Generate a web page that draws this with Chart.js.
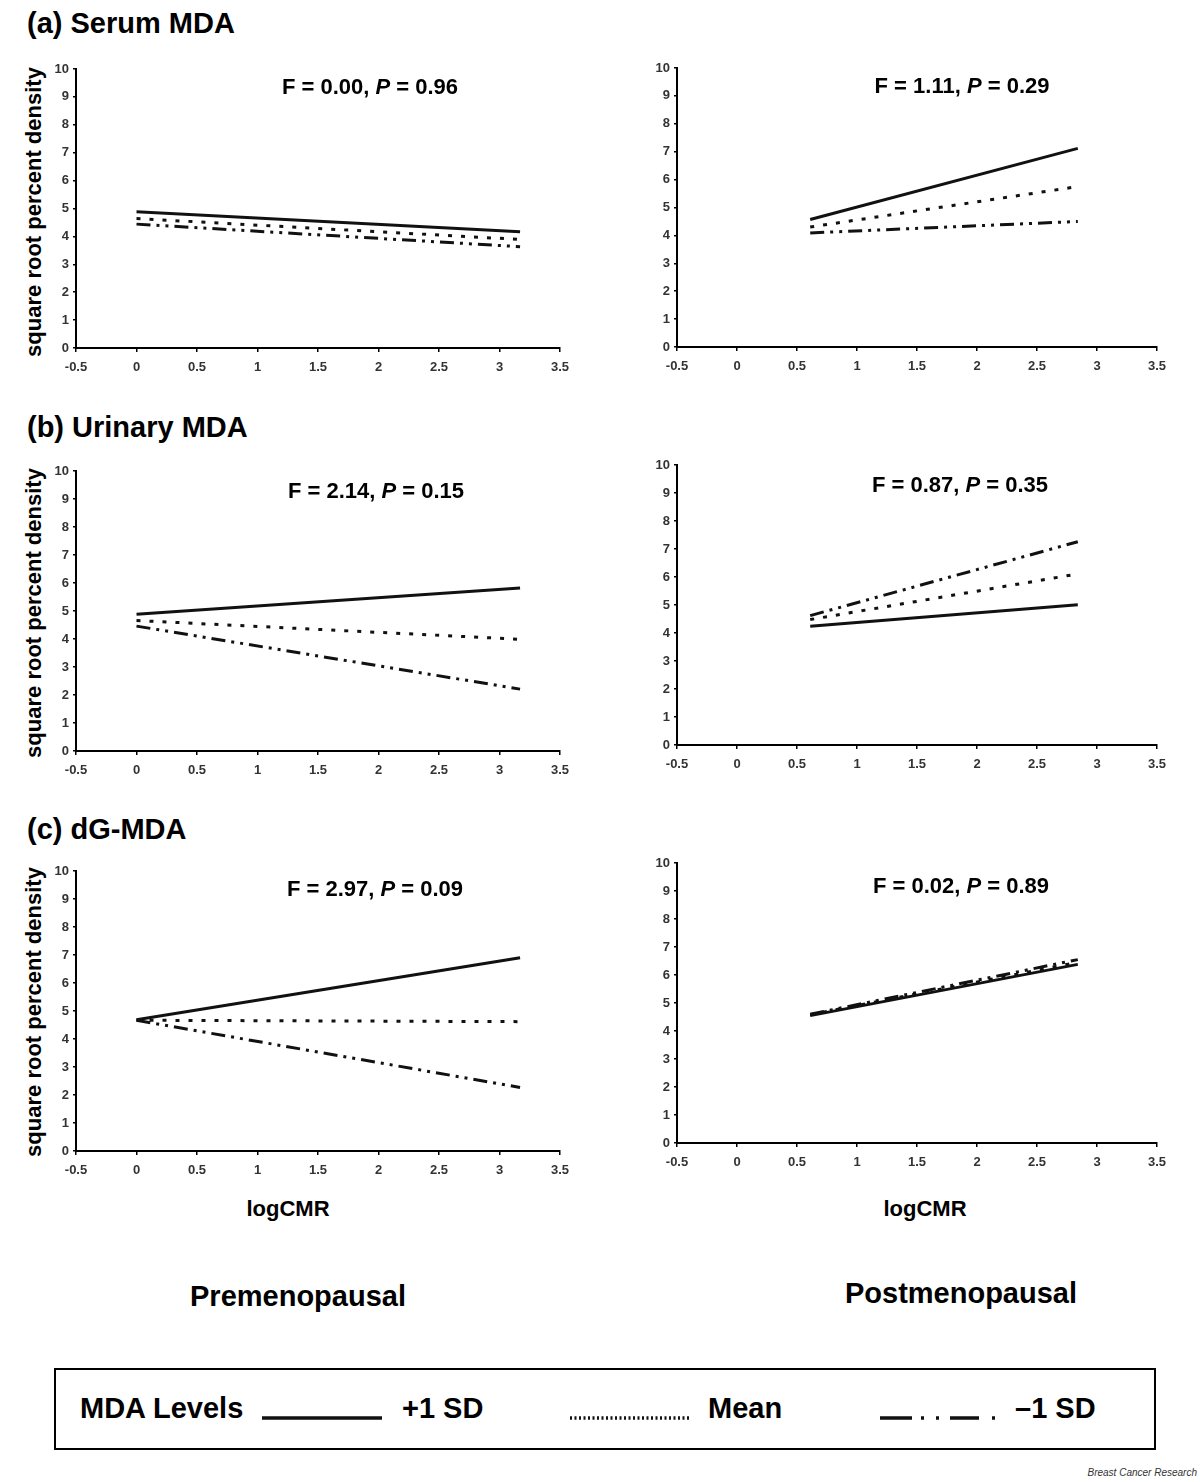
<!DOCTYPE html>
<html>
<head>
<meta charset="utf-8">
<script src="https://cdn.jsdelivr.net/npm/chart.js@4.4.0/dist/chart.umd.min.js"></script>
<style>
  body { margin: 0; width: 1200px; height: 1482px; background: #fff; position: relative; overflow: hidden;
         font-family: "Liberation Sans", Arial, sans-serif; color: #000; }
  .abs { position: absolute; white-space: nowrap; }
  .c { transform: translate(-50%, -50%); }
  .section { font-weight: bold; font-size: 29px; }
  .stat { font-weight: bold; font-size: 22px; }
  .ytitle { font-weight: bold; font-size: 22px; transform: translate(-50%, -50%) rotate(-90deg); }
  .xtitle { font-weight: bold; font-size: 22px; }
  .group { font-weight: bold; font-size: 29px; }
  canvas { position: absolute; }
  #legend { position: absolute; left: 54px; top: 1368px; width: 1098px; height: 78px; border: 2px solid #000; }
  .leg { font-weight: bold; font-size: 29px; }
  .credit { font-style: italic; font-size: 10px; color: #333; }
</style>
</head>
<body>

<div class="abs section" style="left:27px; top:7px;">(a) Serum MDA</div>
<div class="abs section" style="left:27px; top:411px;">(b) Urinary MDA</div>
<div class="abs section" style="left:27px; top:813px;">(c) dG-MDA</div>

<div class="abs ytitle" style="left:34px; top:212px;">square root percent density</div>
<div class="abs ytitle" style="left:34px; top:613px;">square root percent density</div>
<div class="abs ytitle" style="left:34px; top:1012px;">square root percent density</div>

<div class="abs xtitle c" style="left:288px; top:1209px;">logCMR</div>
<div class="abs xtitle c" style="left:925px; top:1209px;">logCMR</div>

<div class="abs group c" style="left:298px; top:1296px;">Premenopausal</div>
<div class="abs group c" style="left:961px; top:1293px;">Postmenopausal</div>

<div id="legend"></div>
<div class="abs credit" style="right:3px; top:1467px;">Breast Cancer Research</div>

<script>
// logCMR range covered by each menopausal group
const X_PRE  = [0, 3.17];
const X_POST = [0.61, 2.84];

// square root percent density at the two ends of each fitted line
const SERUM_PRE_HI    = [4.88, 4.17];
const SERUM_PRE_MEAN  = [4.64, 3.89];
const SERUM_PRE_LO    = [4.44, 3.63];
const SERUM_POST_HI   = [4.57, 7.12];
const SERUM_POST_MEAN = [4.30, 5.75];
const SERUM_POST_LO   = [4.09, 4.50];

const URINE_PRE_HI    = [4.88, 5.82];
const URINE_PRE_MEAN  = [4.66, 3.99];
const URINE_PRE_LO    = [4.46, 2.21];
const URINE_POST_HI   = [4.24, 5.01];
const URINE_POST_MEAN = [4.48, 6.11];
const URINE_POST_LO   = [4.62, 7.26];

const DG_PRE_HI    = [4.69, 6.90];
const DG_PRE_MEAN  = [4.67, 4.62];
const DG_PRE_LO    = [4.67, 2.27];
const DG_POST_HI   = [4.55, 6.38];
const DG_POST_MEAN = [4.58, 6.45];
const DG_POST_LO   = [4.60, 6.55];

// interaction test results
const STAT_F = ['0.00', '1.11', '2.14', '0.87', '2.97', '0.02'];
const STAT_P = ['0.96', '0.29', '0.15', '0.35', '0.09', '0.89'];

// axis ticks
const X_TICKS = [-0.5, 0, 0.5, 1, 1.5, 2, 2.5, 3, 3.5];
const Y_TICKS = [0, 1, 2, 3, 4, 5, 6, 7, 8, 9, 10];

const SERIES_LABELS = ['+1 SD', 'Mean', '\u20131 SD'];

// line styles per MDA level
const STYLES = [
  { borderDash: [] },
  { borderDash: [4, 9] },
  { borderDash: [14, 6, 3, 6, 3, 6] },
];

// plot-area rectangles [left, top, right, bottom] and stat label centres
const PANELS = [
  { rect: [76, 69, 560, 348],    stat: [370, 87],  x: X_PRE,  ys: [SERUM_PRE_HI, SERUM_PRE_MEAN, SERUM_PRE_LO] },
  { rect: [677, 68, 1157, 347],  stat: [962, 86],  x: X_POST, ys: [SERUM_POST_HI, SERUM_POST_MEAN, SERUM_POST_LO] },
  { rect: [76, 471, 560, 751],   stat: [376, 491], x: X_PRE,  ys: [URINE_PRE_HI, URINE_PRE_MEAN, URINE_PRE_LO] },
  { rect: [677, 465, 1157, 745], stat: [960, 485], x: X_POST, ys: [URINE_POST_HI, URINE_POST_MEAN, URINE_POST_LO] },
  { rect: [76, 871, 560, 1151],  stat: [375, 889], x: X_PRE,  ys: [DG_PRE_HI, DG_PRE_MEAN, DG_PRE_LO] },
  { rect: [677, 863, 1157, 1143],stat: [961, 886], x: X_POST, ys: [DG_POST_HI, DG_POST_MEAN, DG_POST_LO] },
];

const AXIS_W = 45;   // room for y tick labels
const AXIS_H = 40;   // room for x tick labels
const PAD_T = 12;
const PAD_R = 18;

const tickFont = { family: '"Liberation Sans", Arial, sans-serif', size: 13, weight: 'bold' };

PANELS.forEach((p, i) => {
  const [l, t, r, b] = p.rect;
  const canvas = document.createElement('canvas');
  canvas.width  = r - l + AXIS_W + PAD_R;
  canvas.height = b - t + PAD_T + AXIS_H;
  canvas.style.left = (l - AXIS_W) + 'px';
  canvas.style.top  = (t - PAD_T) + 'px';
  document.body.appendChild(canvas);

  const stat = document.createElement('div');
  stat.className = 'abs stat c';
  stat.style.left = p.stat[0] + 'px';
  stat.style.top  = p.stat[1] + 'px';
  stat.innerHTML = `F = ${STAT_F[i]}, <i>P</i> = ${STAT_P[i]}`;
  document.body.appendChild(stat);

  const datasets = p.ys.map((ys, k) => ({
    label: SERIES_LABELS[k],
    data: p.x.map((x, j) => ({ x, y: ys[j] })),
    borderColor: '#111',
    borderWidth: 3,
    borderDash: STYLES[k].borderDash,
    borderCapStyle: 'butt',
    pointRadius: 0,
    fill: false,
  }));

  new Chart(canvas, {
    type: 'line',
    data: { datasets },
    options: {
      responsive: false,
      animation: false,
      layout: { padding: { top: PAD_T, right: PAD_R, left: 0, bottom: 0 } },
      plugins: { legend: { display: false }, tooltip: { enabled: false } },
      scales: {
        x: {
          type: 'linear',
          min: -0.5,
          max: 3.5,
          afterBuildTicks(scale) { scale.ticks = X_TICKS.map(v => ({ value: v })); },
          afterFit(scale) { scale.height = AXIS_H; },
          ticks: { font: tickFont, color: '#333', padding: 8, maxRotation: 0, autoSkip: false,
                   callback: v => String(v) },
          grid: { drawOnChartArea: false, drawTicks: true, tickLength: 4, color: '#000', lineWidth: 1.5 },
          border: { color: '#000', width: 2 },
        },
        y: {
          min: 0,
          max: 10,
          afterBuildTicks(scale) { scale.ticks = Y_TICKS.map(v => ({ value: v })); },
          afterFit(scale) { scale.width = AXIS_W; },
          ticks: { font: tickFont, color: '#333', padding: 4, callback: v => String(v) },
          grid: { drawOnChartArea: false, drawTicks: true, tickLength: 3, color: '#000', lineWidth: 1.5 },
          border: { color: '#000', width: 2 },
        },
      },
    },
  });
});

// HTML legend for the MDA levels
function renderLegend(el) {
  const sample = (w, dash) => `<svg width="${w}" height="8" style="position:absolute;top:44px"><line x1="0" y1="4" x2="${w}" y2="4" stroke="#111" stroke-width="3.5" stroke-dasharray="${dash}"/></svg>`;
  el.innerHTML = `
    <div class="abs leg" style="left:24px; top:22px;">MDA Levels</div>
    <div class="abs" style="left:206px;">${sample(120, 'none')}</div>
    <div class="abs leg" style="left:346px; top:22px;">${SERIES_LABELS[0]}</div>
    <div class="abs" style="left:514px;">${sample(120, '2 2.5')}</div>
    <div class="abs leg" style="left:652px; top:22px;">${SERIES_LABELS[1]}</div>
    <div class="abs" style="left:824px;">${sample(120, '32 9 3 12 3 11 29 13 3 100')}</div>
    <div class="abs leg" style="left:959px; top:22px;">${SERIES_LABELS[2]}</div>`;
}
renderLegend(document.getElementById('legend'));
</script>
</body>
</html>
